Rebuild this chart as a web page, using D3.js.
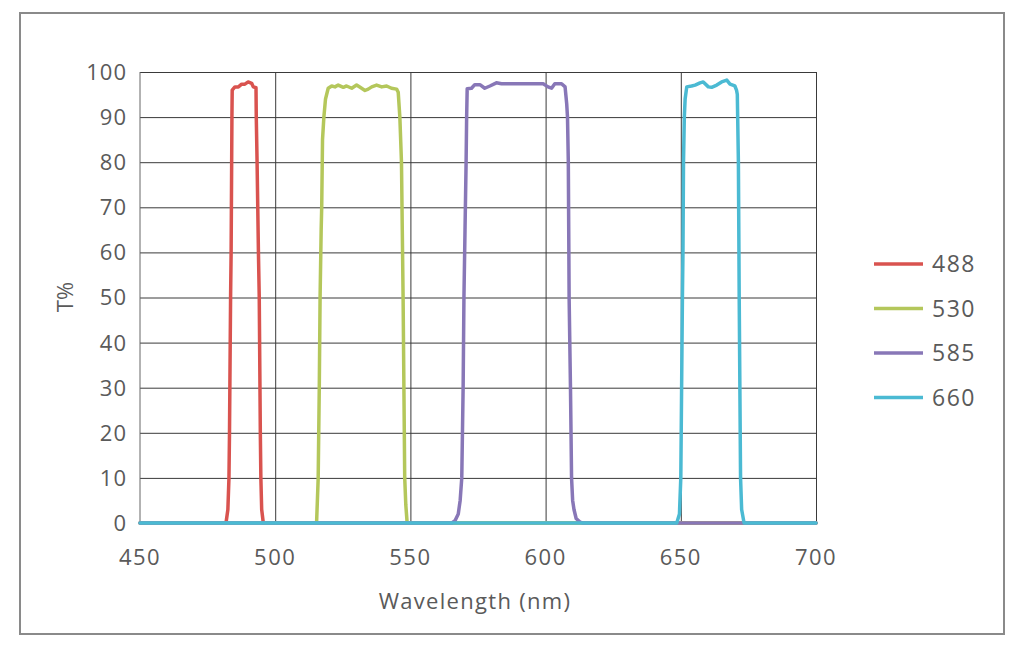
<!DOCTYPE html>
<html>

<head>
    <style>
        body { margin: 0; background: #fff; }
        text { font-family: "Open Sans", sans-serif; fill: #5a5a5a; }
        .grid line { stroke: #3a3a3a; stroke-width: 1; }
        .grid path { display: none; }
        .series { fill: none; stroke-width: 3.5; stroke-linejoin: round; stroke-linecap: round; }
    </style>
</head>

<body>
    <svg id="container" height="652" width="1024">
        <g id="body"></g>
    </svg>
</body>
<script src="https://d3js.org/d3.v7.min.js"></script>

<script>
    // data
    let seriesNames = ["488", "530", "585", "660"];
    let seriesColors = ["#d9534f", "#b4c75b", "#8877b7", "#4bbad3"];
    let xTicks = [450, 500, 550, 600, 650, 700];
    let yTicks = [0, 10, 20, 30, 40, 50, 60, 70, 80, 90, 100];

    let wl488 = [450, 481.8, 482.5, 482.9, 483.1, 483.5, 483.7, 483.9, 484.0, 484.1, 485.1, 486.4, 487.6, 488.8, 490.0, 491.3, 491.9, 492.9, 493.0, 493.3, 493.8, 494.1, 494.5, 494.7, 495.0, 495.6, 700];
    let t488  = [0, 0, 3, 10, 20, 50, 60, 80, 90, 96, 96.7, 96.7, 97.3, 97.3, 97.8, 97.5, 96.7, 96.5, 90, 80, 60, 50, 20, 10, 3, 0, 0];

    let wl530 = [450, 515.3, 515.6, 515.9, 516.3, 516.6, 517.0, 517.2, 517.5, 518.0, 518.6, 519.6, 520.9, 522.1, 523.3, 525.2, 526.4, 528.3, 530.1, 531.4, 533.2, 534.4, 535.7, 537.5, 539.4, 541.2, 543.0, 544.9, 545.5, 546.1, 546.7, 547.0, 547.3, 547.9, 548.3, 548.8, 700];
    let t530  = [0, 0, 5, 10, 30, 50, 65, 70, 85, 90, 94, 96.4, 96.9, 96.7, 97.1, 96.6, 96.9, 96.4, 97.1, 96.6, 95.9, 96.2, 96.7, 97.1, 96.7, 96.9, 96.4, 96.2, 95.5, 90, 80, 65, 50, 10, 4, 0, 0];

    let wl585 = [450, 565.3, 566.5, 567.7, 568.4, 569.0, 569.5, 569.8, 570.2, 570.6, 570.8, 571.0, 572.6, 573.8, 575.7, 577.5, 579.4, 581.8, 583.7, 591.7, 599.1, 600.9, 602.2, 603.4, 605.9, 607.2, 607.8, 608.1, 608.4, 608.7, 609.2, 609.6, 610.0, 610.5, 611.3, 612.7, 613.9, 700];
    let t585  = [0, 0, 0.5, 2, 5, 10, 30, 50, 65, 80, 90, 96.3, 96.4, 97.2, 97.2, 96.4, 96.9, 97.6, 97.4, 97.4, 97.4, 96.7, 96.4, 97.4, 97.4, 96.7, 93, 90, 80, 50, 30, 10, 5, 3, 1, 0.2, 0, 0];

    let wl660 = [450, 648.5, 649.5, 650.0, 650.3, 650.6, 650.8, 651.0, 651.3, 651.6, 652.2, 654.0, 655.3, 657.1, 658.3, 660.2, 661.4, 663.3, 665.1, 667.0, 668.2, 670.0, 670.6, 670.9, 671.3, 671.6, 672.1, 672.5, 673.4, 700];
    let t660  = [0, 0, 2, 10, 30, 50, 60, 80, 90, 94, 96.7, 96.9, 97.1, 97.6, 97.8, 96.7, 96.6, 97.1, 97.8, 98.2, 97.3, 96.9, 96.0, 95, 80, 50, 10, 3, 0, 0];

    let wlData = [wl488, wl530, wl585, wl660];
    let tData = [t488, t530, t585, t660];

    let svg = d3.select("#container");
    let body = d3.select("#body");

    let x = d3.scaleLinear().domain([450, 700]).range([140, 816]);
    let y = d3.scaleLinear().domain([0, 100]).range([523, 72]);

    // outer frame
    svg.insert("rect", "#body")
        .attr("x", 20).attr("y", 13)
        .attr("width", 984).attr("height", 621)
        .attr("fill", "none")
        .attr("stroke", "#8a8a8a")
        .attr("stroke-width", 2);

    // horizontal gridlines
    body.append("g")
        .attr("class", "grid")
        .attr("transform", "translate(140, 0)")
        .call(d3.axisLeft(y).tickValues(yTicks.slice(1)).tickSize(-(816 - 140)).tickFormat(""));

    // vertical gridlines (500..700)
    body.append("g")
        .attr("class", "grid")
        .attr("transform", "translate(0, 72)")
        .call(d3.axisTop(x).tickValues(xTicks.slice(1)).tickSize(-(523 - 72)).tickFormat(""));

    // left axis line
    body.append("line")
        .attr("x1", x(450)).attr("x2", x(450))
        .attr("y1", y(100)).attr("y2", y(0))
        .attr("stroke", "#666");

    // y tick labels
    body.append("g")
        .selectAll("text")
        .data(yTicks)
        .enter()
        .append("text")
            .attr("x", 127)
            .attr("y", (d) => y(d))
            .attr("dy", "0.36em")
            .attr("text-anchor", "end")
            .attr("font-size", 22)
            .attr("letter-spacing", 1)
            .text((d) => d);

    // x tick labels
    body.append("g")
        .selectAll("text")
        .data(xTicks)
        .enter()
        .append("text")
            .attr("x", (d) => x(d))
            .attr("y", 565)
            .attr("text-anchor", "middle")
            .attr("font-size", 22)
            .attr("letter-spacing", 1.5)
            .text((d) => d);

    body.append("text")
        .attr("x", 475)
        .attr("y", 609)
        .attr("text-anchor", "middle")
        .attr("font-size", 22)
        .attr("letter-spacing", 1.3)
        .text("Wavelength (nm)");

    body.append("text")
        .attr("transform", "translate(73, 297) rotate(-90)")
        .attr("text-anchor", "middle")
        .attr("font-size", 22)
        .text("T%");

    // curves
    let line = d3.line()
        .x((d) => x(d[0]))
        .y((d) => y(d[1]));

    body.append("g")
        .selectAll("path")
        .data(seriesNames)
        .enter()
        .append("path")
            .attr("class", "series")
            .attr("stroke", (d, i) => seriesColors[i])
            .attr("d", (d, i) => line(d3.zip(wlData[i], tData[i])));

    // legend
    let legend = body.append("g")
        .selectAll("g")
        .data(seriesNames)
        .enter()
        .append("g")
            .attr("transform", (d, i) => `translate(874, ${264 + i * 44.5})`);
    legend.append("line")
        .attr("x1", 0).attr("x2", 49)
        .attr("stroke", (d, i) => seriesColors[i])
        .attr("stroke-width", 3.5);
    legend.append("text")
        .attr("x", 58)
        .attr("dy", "0.36em")
        .attr("font-size", 23)
        .attr("letter-spacing", 1.5)
        .text((d) => d);
</script>

</html>
